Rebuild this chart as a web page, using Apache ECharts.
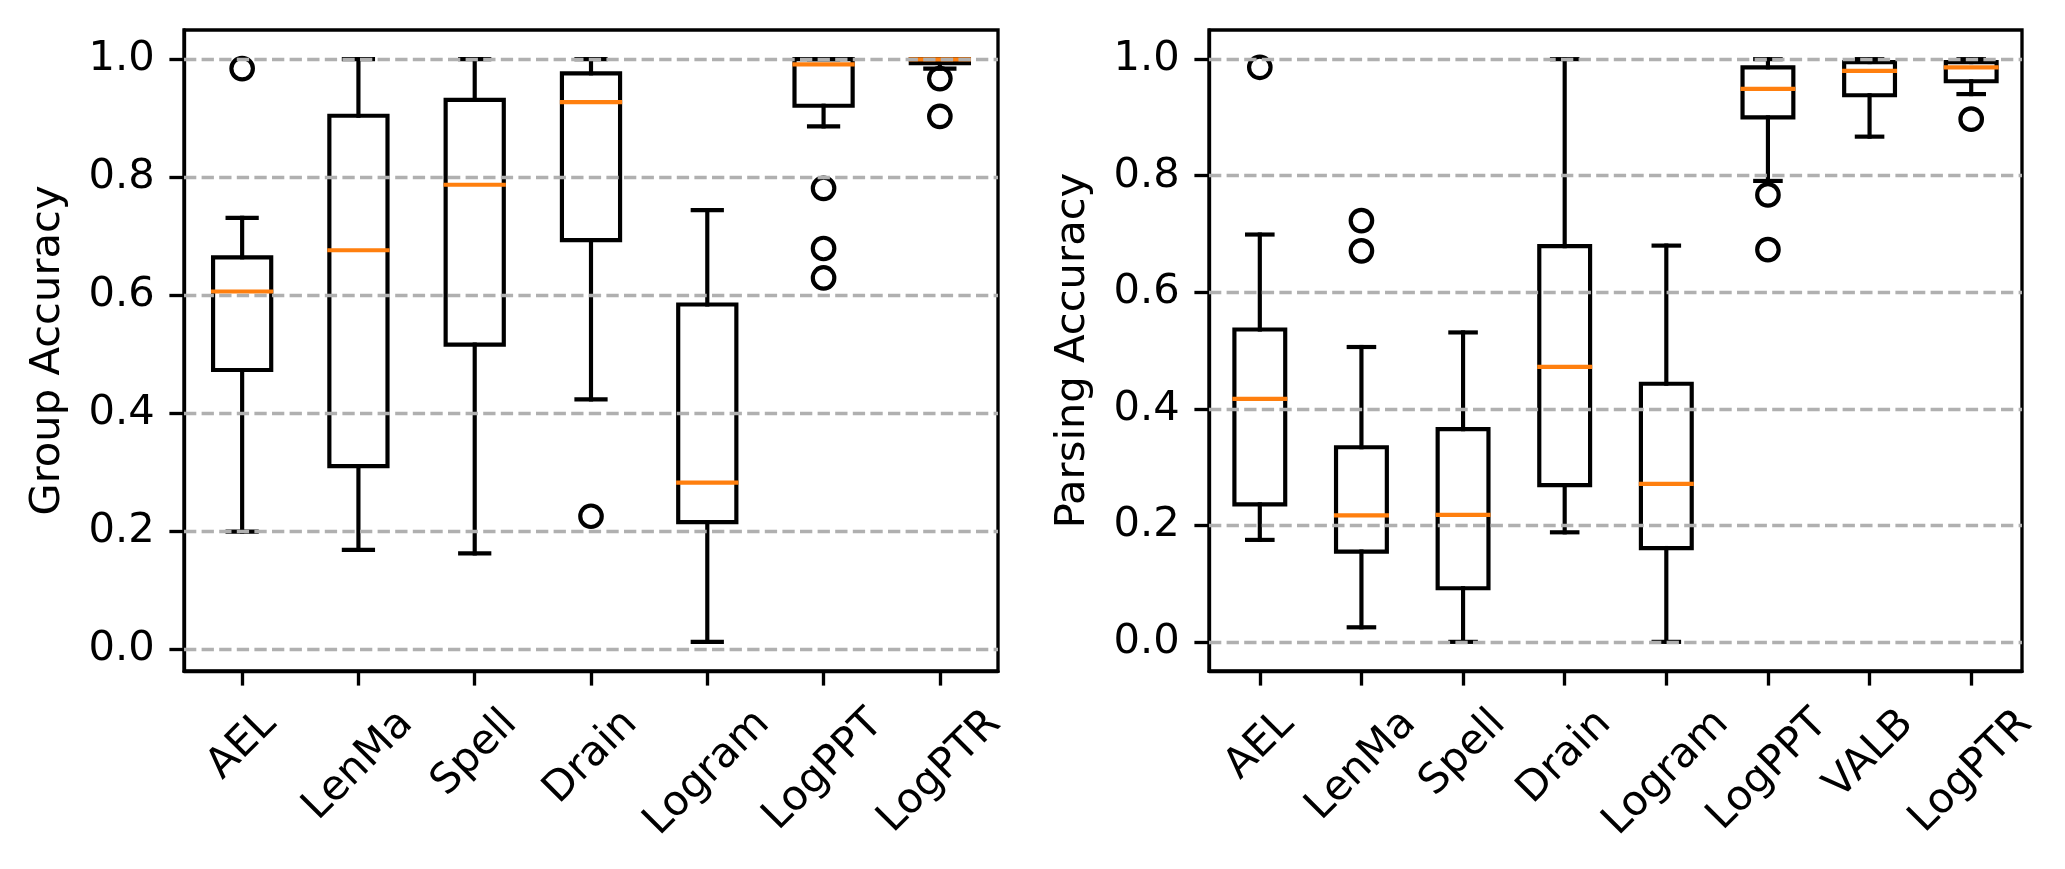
<!DOCTYPE html>
<html>
<head>
<meta charset="utf-8">
<script src="https://cdn.jsdelivr.net/npm/echarts@6.0.0/dist/echarts.min.js"></script>
<style>
  html, body { margin: 0; padding: 0; background: #fff; }
  #chart { width: 2065px; height: 869px; }
</style>
</head>
<body>
<div id="chart"></div>
<script>
// left panel: group accuracy
const groupCategories = ['AEL', 'LenMa', 'Spell', 'Drain', 'Logram', 'LogPPT', 'LogPTR'];
const groupLow  = [0.199, 0.168, 0.162, 0.423, 0.012, 0.886, 0.984];
const groupQ1   = [0.473, 0.310, 0.516, 0.693, 0.215, 0.921, 0.993];
const groupMed  = [0.606, 0.676, 0.787, 0.927, 0.282, 0.991, 0.9995];
const groupQ3   = [0.664, 0.904, 0.931, 0.976, 0.584, 1.0, 1.0];
const groupHigh = [0.731, 1.0, 1.0, 1.0, 0.744, 1.0, 1.0];
const groupOutliers = [
  ['AEL', 0.984], ['Drain', 0.225],
  ['LogPPT', 0.781], ['LogPPT', 0.679], ['LogPPT', 0.629],
  ['LogPTR', 0.967], ['LogPTR', 0.903]
];

// right panel: parsing accuracy
const parseCategories = ['AEL', 'LenMa', 'Spell', 'Drain', 'Logram', 'LogPPT', 'VALB', 'LogPTR'];
const parseLow  = [0.175, 0.025, 0.0, 0.188, 0.0, 0.791, 0.867, 0.940];
const parseQ1   = [0.236, 0.155, 0.092, 0.269, 0.161, 0.900, 0.938, 0.962];
const parseMed  = [0.417, 0.217, 0.218, 0.472, 0.271, 0.949, 0.980, 0.986];
const parseQ3   = [0.536, 0.334, 0.365, 0.679, 0.443, 0.986, 0.995, 0.995];
const parseHigh = [0.699, 0.506, 0.531, 1.0, 0.680, 1.0, 1.0, 1.0];
const parseOutliers = [
  ['AEL', 0.986], ['LenMa', 0.723], ['LenMa', 0.671],
  ['LogPPT', 0.767], ['LogPPT', 0.673], ['LogPTR', 0.897]
];

const yTicks = [0, 0.2, 0.4, 0.6, 0.8, 1.0];

const fontFamily = 'DejaVu Sans';
const FS = 41.67;      // 10pt at 300 dpi
const LW = 4.17;       // 1pt
const SPINE = 3.33;    // 0.8pt
const TICK = 14.6;     // 3.5pt

// measure label widths so rotated labels hang below the tick like matplotlib (ha=center)
const meas = document.createElement('canvas').getContext('2d');
meas.font = FS + 'px "DejaVu Sans"';
function richFor(cats) {
  const rich = {};
  cats.forEach((c, i) => {
    const w = meas.measureText(c).width;
    const p = (w + FS * 1.164) / 2;
    rich['c' + i] = { fontSize: FS, fontFamily: fontFamily, color: '#000', padding: [p, p, 0, 0] };
  });
  return rich;
}

function makeX(gridIndex, cats) {
  return {
    type: 'category',
    gridIndex: gridIndex,
    data: cats,
    boundaryGap: true,
    axisLine: { show: true, onZero: false, lineStyle: { color: '#000', width: SPINE } },
    axisTick: { show: true, alignWithLabel: true, length: TICK, lineStyle: { color: '#000', width: SPINE } },
    splitLine: { show: false },
    axisLabel: {
      interval: 0,
      rotate: 45,
      align: 'center',
      verticalAlign: 'middle',
      margin: 29.2,
      formatter: (v, i) => '{c' + i + '|' + v + '}',
      rich: richFor(cats)
    }
  };
}

function makeY(gridIndex, name, min, max) {
  return {
    type: 'value',
    gridIndex: gridIndex,
    min: min,
    max: max,
    name: name,
    nameLocation: 'middle',
    nameGap: 136,
    nameRotate: 90,
    nameMoveOverlap: false,
    nameTextStyle: { color: '#000', fontSize: FS, fontFamily: fontFamily, align: 'center', verticalAlign: 'middle' },
    axisLine: { show: true, onZero: false, lineStyle: { color: '#000', width: SPINE } },
    axisTick: { show: true, length: TICK, customValues: yTicks, lineStyle: { color: '#000', width: SPINE } },
    axisLabel: {
      customValues: yTicks,
      margin: 29.2,
      color: '#000',
      fontSize: FS,
      fontFamily: fontFamily,
      formatter: v => v.toFixed(1)
    },
    splitLine: { show: false }
  };
}

function boxRows(low, q1, med, q3, high) {
  return low.map((v, i) => [i, v, q1[i], med[i], q3[i], high[i]]);
}

function renderBox(params, api) {
  const i = api.value(0);
  const band = api.size([1, 0])[0];
  const lo = api.coord([i, api.value(1)]);
  const b1 = api.coord([i, api.value(2)]);
  const md = api.coord([i, api.value(3)]);
  const b3 = api.coord([i, api.value(4)]);
  const hi = api.coord([i, api.value(5)]);
  const cx = md[0];
  const bw = band * 0.5;
  const cw = bw * 0.5;
  const black = { stroke: '#000', lineWidth: LW, lineCap: 'square', fill: 'none' };
  return {
    type: 'group',
    children: [
      { type: 'line', shape: { x1: cx, y1: b1[1], x2: cx, y2: lo[1] }, style: black },
      { type: 'line', shape: { x1: cx, y1: b3[1], x2: cx, y2: hi[1] }, style: black },
      { type: 'line', shape: { x1: cx - cw / 2, y1: lo[1], x2: cx + cw / 2, y2: lo[1] }, style: black },
      { type: 'line', shape: { x1: cx - cw / 2, y1: hi[1], x2: cx + cw / 2, y2: hi[1] }, style: black },
      { type: 'rect', shape: { x: cx - bw / 2, y: b3[1], width: bw, height: b1[1] - b3[1] },
        style: { stroke: '#000', lineWidth: LW, fill: 'none', lineJoin: 'miter' } },
      { type: 'line', shape: { x1: cx - bw / 2, y1: md[1], x2: cx + bw / 2, y2: md[1] },
        style: { stroke: '#ff7f0e', lineWidth: LW, lineCap: 'square' } }
    ]
  };
}

function gridSeries(idx) {
  return {
    type: 'line',
    xAxisIndex: idx,
    yAxisIndex: idx,
    data: [],
    z: 1,
    silent: true,
    markLine: {
      silent: true,
      animation: false,
      symbol: ['none', 'none'],
      label: { show: false },
      lineStyle: { color: '#b0b0b0', width: SPINE, type: [12.3, 5.3] },
      data: yTicks.map(v => ({ yAxis: v }))
    }
  };
}

function boxSeries(idx, rows) {
  return {
    type: 'custom',
    xAxisIndex: idx,
    yAxisIndex: idx,
    z: 3,
    renderItem: renderBox,
    encode: { x: 0, y: [1, 2, 3, 4, 5] },
    data: rows
  };
}

function outlierSeries(idx, pts) {
  return {
    type: 'scatter',
    xAxisIndex: idx,
    yAxisIndex: idx,
    z: 4,
    symbol: 'circle',
    symbolSize: 21.5,
    itemStyle: { color: 'rgba(0,0,0,0)', borderColor: '#000', borderWidth: LW, opacity: 1 },
    data: pts
  };
}

const chart = echarts.init(document.getElementById('chart'), null, { renderer: 'canvas' });
chart.setOption({
  animation: false,
  backgroundColor: '#fff',
  textStyle: { fontFamily: fontFamily, color: '#000', fontSize: FS },
  grid: [
    { left: 184, top: 30, width: 814, height: 641, show: true, borderColor: '#000', borderWidth: SPINE,
      backgroundColor: 'transparent', outerBoundsMode: 'none' },
    { left: 1209, top: 30, width: 813, height: 641, show: true, borderColor: '#000', borderWidth: SPINE,
      backgroundColor: 'transparent', outerBoundsMode: 'none' }
  ],
  xAxis: [makeX(0, groupCategories), makeX(1, parseCategories)],
  yAxis: [makeY(0, 'Group Accuracy', -0.0374, 1.0494), makeY(1, 'Parsing Accuracy', -0.05, 1.05)],
  series: [
    gridSeries(0),
    gridSeries(1),
    boxSeries(0, boxRows(groupLow, groupQ1, groupMed, groupQ3, groupHigh)),
    boxSeries(1, boxRows(parseLow, parseQ1, parseMed, parseQ3, parseHigh)),
    outlierSeries(0, groupOutliers),
    outlierSeries(1, parseOutliers)
  ]
});
</script>
</body>
</html>
